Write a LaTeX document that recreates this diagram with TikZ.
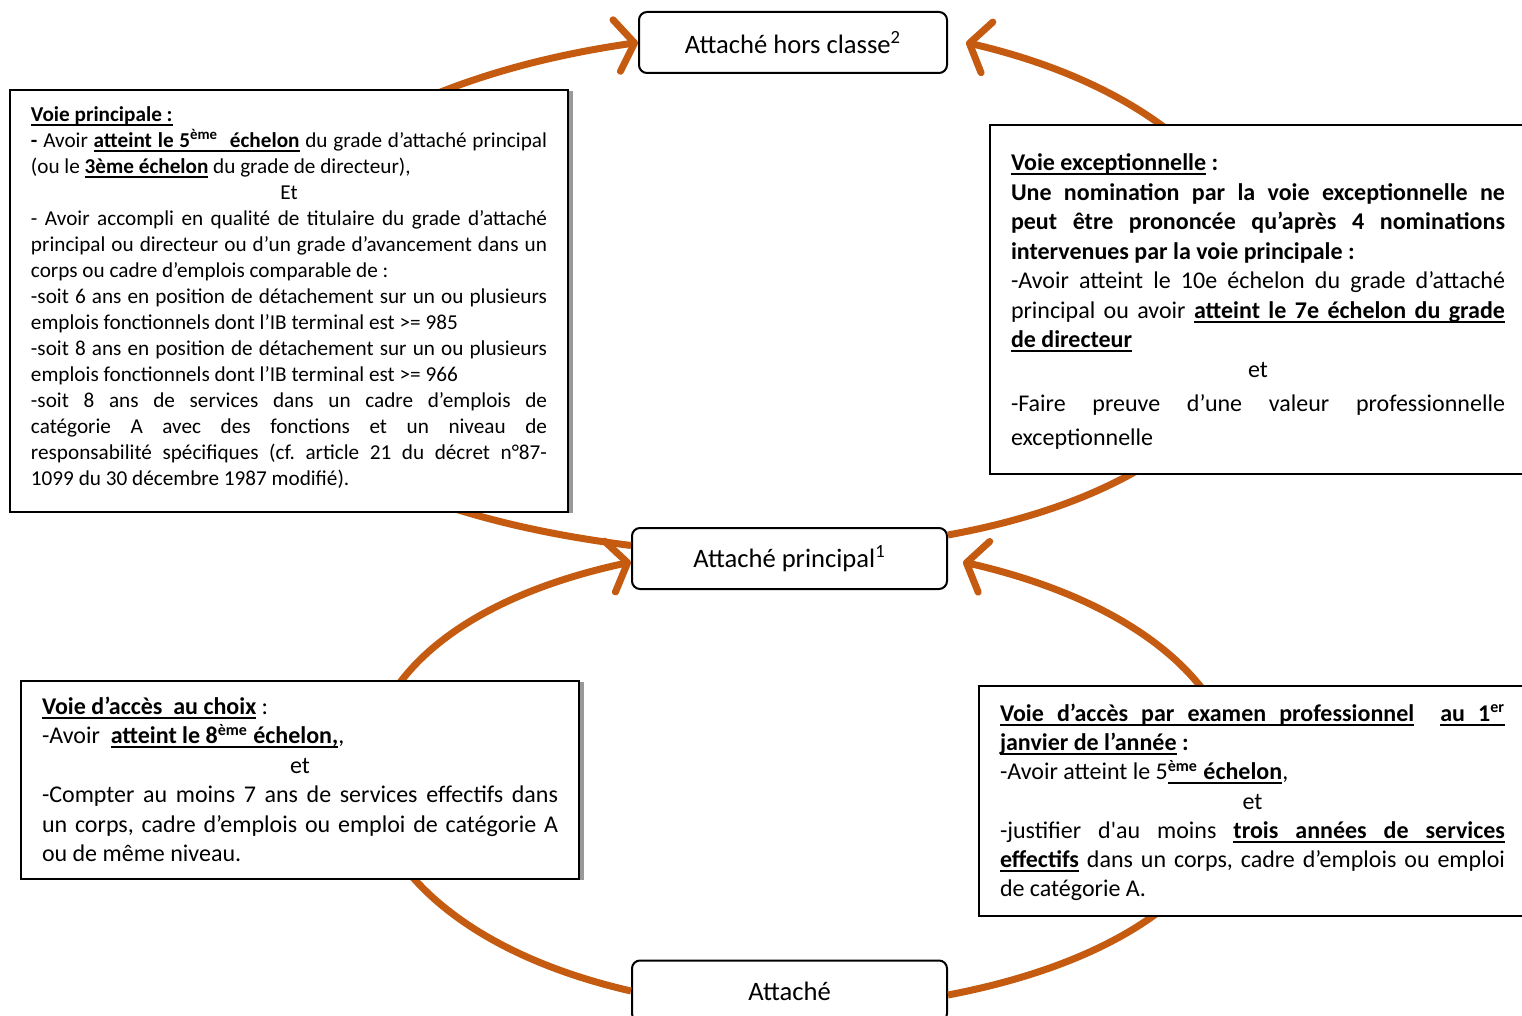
\documentclass[tikz,border=0pt]{standalone}
\usepackage{fontspec}
\setmainfont{Carlito}
\usetikzlibrary{arrows.meta}
\usetikzlibrary{shadows}
\definecolor{rust}{RGB}{197,90,17}
\tikzstyle{gradearrow}= [rust, line width=3.5pt, -{Straight Barb[length=9pt,width=26pt,round]}]
\newcommand{\ulw}[1]{\setbox0=\hbox{#1}\rlap{\vrule height -1.3pt depth 2.2pt width \wd0}\box0\relax}
\newcommand{\uls}{\leaders\hrule height -1.3pt depth 2.2pt\hskip\spaceskip\relax}
\def\myul#1{\myulA#1 \myulend}
\def\myulA#1 #2\myulend{\ulw{#1}\ifx\relax#2\relax\else\uls\myulA#2\myulend\fi}
\newcommand{\condtext}[3]{\begin{minipage}[t][#1][t]{#2}\hyphenpenalty=10000 \frenchspacing
  \spaceskip=0.226em plus 1em minus 0.05em\relax #3\end{minipage}}

\begin{document}
\begin{tikzpicture}[
    x=0.5pt, y=-0.5pt,
    grade/.style={draw, line width=1pt, rounded corners=4pt, fill=white,
      minimum width=157.5pt, minimum height=30.5pt, inner sep=0pt,
      font=\fontsize{13.3}{15}\selectfont},
    cond/.style={draw, line width=1pt, fill=white, anchor=north west,
      inner xsep=10.5pt, inner ysep=0pt, font=\fontsize{12}{14.75}\selectfont},
    boxshadow/.style={drop shadow={shadow xshift=2.5pt, shadow yshift=-0.5pt,
      fill=black!40, opacity=1}}
  ]
  \useasboundingbox (0,0) rectangle (1522,1016);

  \node[grade, minimum width=154pt] (hors) at (793,42.5) {Attaché hors classe\textsuperscript{2}};
  \node[grade] (princ) at (789.5,558.5) {Attaché principal\textsuperscript{1}};
  \node[grade] (att) at (789.5,991) {Attaché};

  \draw[gradearrow] ([yshift=6.5pt]princ.west) .. controls (60,474) and (140,114) .. (hors.west);
  \draw[gradearrow] ([yshift=11.75pt]princ.east) .. controls (1375,457) and (1350,132) .. ([xshift=9pt]hors.east);
  \draw[gradearrow] (att.west) .. controls (295,914) and (270,640) .. ([yshift=-1.75pt]princ.west);
  \draw[gradearrow] ([yshift=-2pt]att.east) .. controls (1335,921) and (1322,644) .. ([xshift=7.5pt,yshift=-1.75pt]princ.east);

  \node[cond, boxshadow, font=\fontsize{10.6}{13}\selectfont] (vprinc) at (9,89) {\condtext{211pt}{258pt}{%
    \vspace*{8.5pt}\textbf{\myul{Voie principale :}}\par
    \textbf{-} Avoir \textbf{\myul{atteint le 5\textsuperscript{ème}\hspace{3pt} échelon}} du grade d’attaché principal\linebreak
    (ou le \textbf{\myul{3ème échelon}} du grade de directeur),\par
    {\centering Et\par}
    - Avoir accompli en qualité de titulaire du grade d’attaché\linebreak
    principal ou directeur ou d’un grade d’avancement dans un\linebreak
    corps ou cadre d’emplois comparable de :\par
    -soit 6 ans en position de détachement sur un ou plusieurs\linebreak
    emplois fonctionnels dont l’IB terminal est >= 985\par
    -soit 8 ans en position de détachement sur un ou plusieurs\linebreak
    emplois fonctionnels dont l’IB terminal est >= 966\par
    -soit 8 ans de services dans un cadre d’emplois de\linebreak
    catégorie A avec des fonctions et un niveau de\linebreak
    responsabilité spécifiques (cf. article 21 du décret n°87-\linebreak
    1099 du 30 décembre 1987 modifié).}};

  \node[cond] (vexc) at (989,124) {\condtext{174.5pt}{247pt}{%
    \vspace*{14.5pt}\textbf{\myul{Voie exceptionnelle} :}\par
    \textbf{Une nomination par la voie exceptionnelle ne\linebreak
    peut être prononcée qu’après 4 nominations\linebreak
    intervenues par la voie principale :}\par
    -Avoir atteint le 10e échelon du grade d’attaché\linebreak
    principal ou avoir \textbf{\myul{atteint le 7e échelon du grade}\linebreak
    \myul{de directeur}}\par
    {\centering et\par}
    {\baselineskip=17pt -Faire preuve d’une valeur professionnelle\linebreak
    exceptionnelle\par}}};

  \node[cond, boxshadow, font=\fontsize{12}{14.7}\selectfont] (vchoix) at (20,680) {\condtext{99pt}{258pt}{%
    \vspace*{8pt}\textbf{\myul{Voie d’accès\ \ au choix}} :\par
    -Avoir\ \ \textbf{\myul{atteint le 8\textsuperscript{ème} échelon,}},\par
    {\centering et\par}
    -Compter au moins 7 ans de services effectifs dans\linebreak
    un corps, cadre d’emplois ou emploi de catégorie A\linebreak
    ou de même niveau.}};

  \node[cond, font=\fontsize{12}{14.6}\selectfont] (vexam) at (978,685) {\condtext{115pt}{252.5pt}{%
    \vspace*{9pt}\textbf{\myul{Voie d’accès par examen professionnel}\ \ \myul{au 1\textsuperscript{er}}\linebreak
    \myul{janvier de l’année} :}\par
    -Avoir atteint le 5\textbf{\myul{\textsuperscript{ème} échelon}},\par
    {\centering et\par}
    -justifier d\textquotesingle au moins \textbf{\myul{trois années de services}\linebreak
    \myul{effectifs}} dans un corps, cadre d’emplois ou emploi\linebreak
    de catégorie A.}};
\end{tikzpicture}
\end{document}
